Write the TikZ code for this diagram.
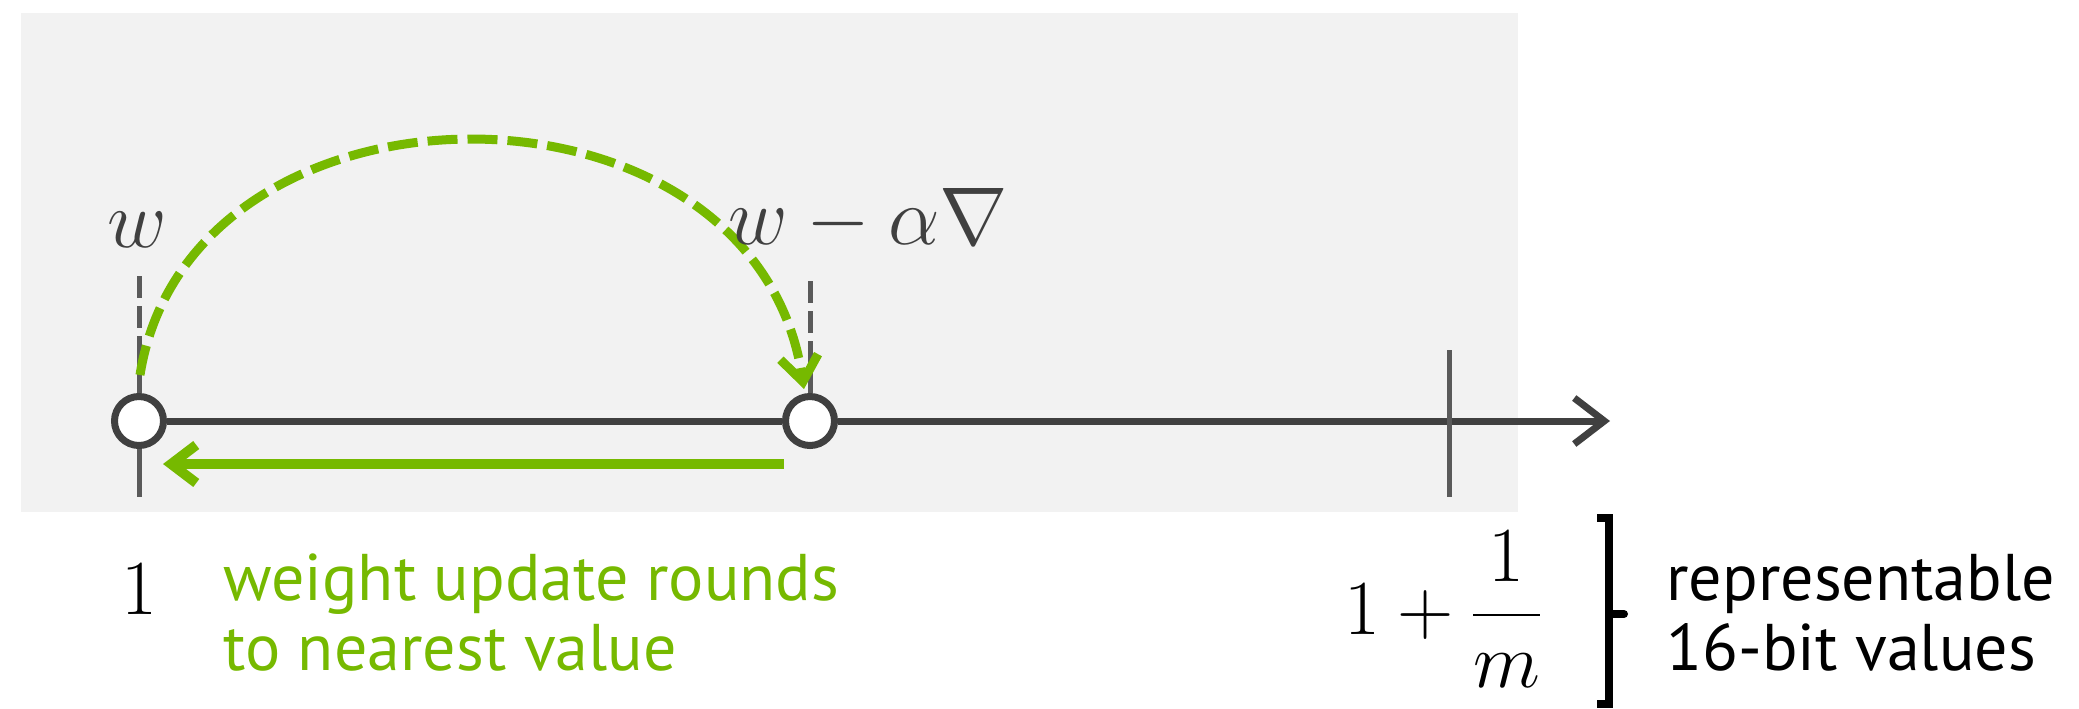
\documentclass[tikz,border=0pt]{standalone}
\usepackage{amsmath}
\usepackage{fix-cm}
\usepackage{fontspec}
\newfontfamily\labelfont{PT Sans}
\usetikzlibrary{arrows.meta}
\definecolor{bggray}{HTML}{F2F2F2}
\definecolor{axisgray}{HTML}{404040}
\definecolor{tickgray}{HTML}{5A5A5A}
\definecolor{nvgreen}{HTML}{76B900}
\begin{document}
\begin{tikzpicture}[x=0.5pt,y=-0.5pt,
  axisline/.style={draw=axisgray, line width=3.5pt},
  tickline/.style={draw=tickgray, line width=2.5pt},
  dashtick/.style={tickline, dash pattern=on 11pt off 4pt},
  pointnode/.style={circle, draw=axisgray, fill=white, line width=3.5pt, minimum size=24.5pt, inner sep=0pt},
  greenline/.style={draw=nvgreen, line width=4.5pt},
  axistip/.style={-{Straight Barb[length=15pt,width=23pt]}},
  greentip/.style={-{Straight Barb[length=12.5pt,width=19pt]}},
  mathlbl/.style={text=axisgray, inner sep=0pt, font=\fontsize{41}{50}\selectfont},
  numlbl/.style={text=black, inner sep=0pt, font=\fontsize{39}{46}\selectfont},
  txtlbl/.style={inner sep=0pt, align=left, font=\labelfont\fontsize{33}{35}\selectfont}
]
\useasboundingbox (0,0) rectangle (2079,708);
\fill[bggray] (21,13) rectangle (1518,512);

% points on the axis
\node[pointnode] (c1) at (139,421) {};
\node[pointnode] (c2) at (810,421) {};
\coordinate (axend) at (1610,421);
\draw[axisline] (c1) -- (c2);
\draw[axisline, axistip] (c2) -- (axend);

% ticks
\coordinate (t1a) at (139,276);
\coordinate (t1b) at (139,328);
\coordinate (t1c) at (139,336);
\coordinate (t1d) at (139,497);
\draw[dashtick] (t1a) -- (t1b);
\draw[tickline] (t1c) -- (c1.north);
\draw[tickline] (c1.south) -- (t1d);

\coordinate (t2a) at (810,281);
\coordinate (t2b) at (810,333);
\coordinate (t2c) at (810,341);
\draw[dashtick] (t2a) -- (t2b);
\draw[tickline] (t2c) -- (c2.north);

\coordinate (t3a) at (1449,350);
\coordinate (t3b) at (1449,497);
\draw[tickline] (t3a) -- (t3b);

% green arrows
\coordinate (ga) at (140,375);
\coordinate (gb) at (804,389);
\draw[greenline, dash pattern=on 15pt off 5pt, greentip] (ga) .. controls (190,60) and (755,60) .. (gb);
\coordinate (gs) at (784,464);
\coordinate (ge) at (163,464);
\draw[greenline, line width=5pt, greentip] (gs) -- (ge);

% labels
\node[mathlbl, anchor=base] (lw) at (137,247) {$w$};
\node[mathlbl, anchor=base west] (lw2) at (728,244) {$w-\alpha\nabla$};
\node[numlbl, anchor=base] (one) at (139,614) {$1$};
\node[numlbl, anchor=base west] (onem) at (1344,634) {$1+\dfrac{1}{m}$};
\node[txtlbl, text=nvgreen, anchor=base west] (upd) at (223,670) {weight update rounds\\to nearest value};
\node[txtlbl, text=black, anchor=base west] (rep) at (1666,670) {representable\\16-bit values};

% bracket
\coordinate (b1) at (1597,518);
\coordinate (b2) at (1609,518);
\coordinate (b3) at (1609,704);
\coordinate (b4) at (1597,704);
\coordinate (bm) at (1609,614);
\coordinate (bn) at (1624,614);
\draw[line width=4pt, black] (b1) -- (b2) -- (b3) -- (b4);
\draw[line width=4pt, black, line cap=round] (bm) -- (bn);
\end{tikzpicture}
\end{document}
